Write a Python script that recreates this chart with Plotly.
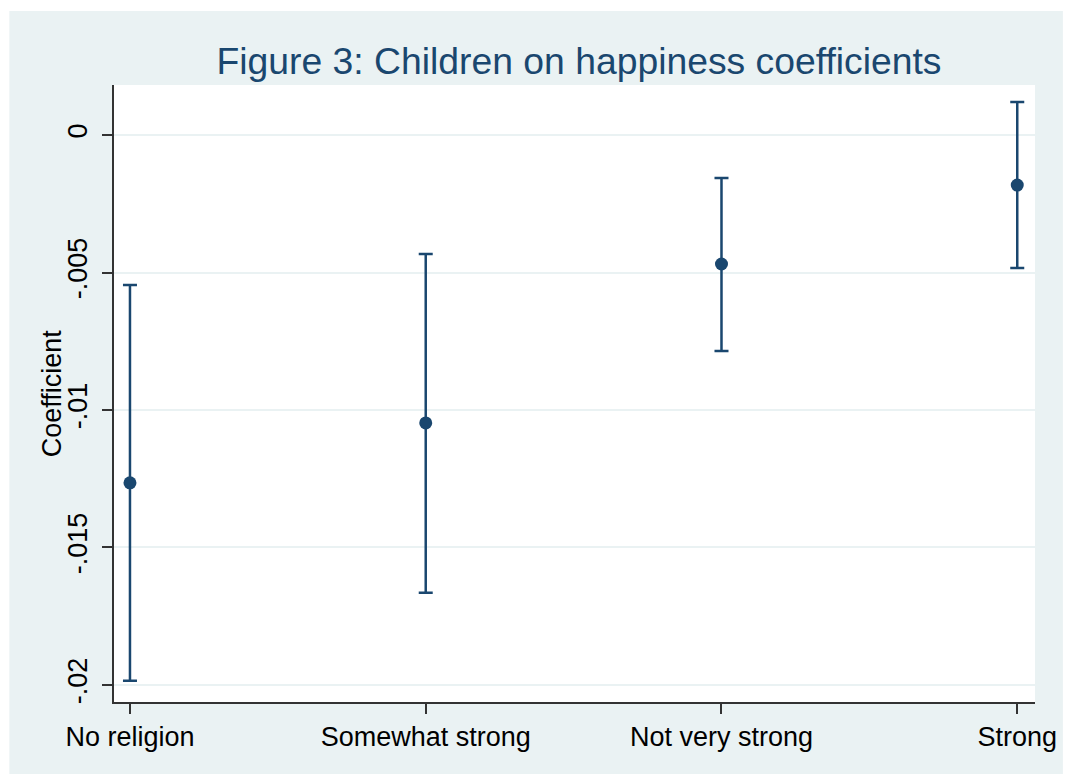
import plotly.graph_objects as go

categories = ["No religion", "Somewhat strong", "Not very strong", "Strong"]
coef = [-0.01265, -0.01047, -0.00469, -0.00182]
ci_upper = [-0.00545, -0.00433, -0.00156, 0.00120]
ci_lower = [-0.01985, -0.01665, -0.00785, -0.00484]
y_ticks = [0, -0.005, -0.01, -0.015, -0.02]
y_tick_labels = ["0", "-.005", "-.01", "-.015", "-.02"]

navy = "#1a476f"
bg = "#eaf2f3"
xpos = list(range(len(categories)))
err_plus = [u - c for u, c in zip(ci_upper, coef)]
err_minus = [c - l for c, l in zip(coef, ci_lower)]

W, H = 1069, 774
L, R, T, B = 114, 31, 85, 72
pw, ph = W - L - R, H - T - B

def px_x(p):  # screen px -> paper x
    return (p - L) / pw

def px_y(p):  # screen px -> paper y
    return (H - B - p) / ph

fig = go.Figure()
fig.add_trace(go.Scatter(
    x=xpos, y=coef, mode="markers",
    marker=dict(color=navy, size=13, symbol="circle"),
    error_y=dict(type="data", symmetric=False, array=err_plus, arrayminus=err_minus,
                 color=navy, thickness=2.5, width=7),
    showlegend=False,
))

fig.add_shape(type="rect", xref="paper", yref="paper",
              x0=px_x(9), x1=px_x(1066), y0=px_y(790), y1=px_y(11),
              fillcolor=bg, line=dict(width=0), layer="below")
fig.add_shape(type="rect", xref="paper", yref="paper",
              x0=0, x1=1, y0=0, y1=1,
              fillcolor="white", line=dict(width=0), layer="below")

fig.add_annotation(text="Coefficient", xref="paper", yref="paper",
                   x=px_x(52), y=px_y(393), xanchor="center", yanchor="middle",
                   textangle=-90, showarrow=False, font=dict(size=27, color="black"))

fig.update_layout(
    width=W, height=H,
    margin=dict(l=L, r=R, t=T, b=B, pad=0),
    paper_bgcolor="white", plot_bgcolor="white",
    font=dict(family="Liberation Sans, Arial, sans-serif", size=27, color="black"),
    title=dict(text="Figure 3: Children on happiness coefficients",
               font=dict(size=37.3, color=navy), x=579 / W,
               xanchor="center", y=1 - 61 / H, yanchor="middle"),
    xaxis=dict(
        range=[-0.054, 3.06], tickmode="array", tickvals=xpos, ticktext=categories,
        showgrid=False, zeroline=False, showline=True, linecolor="#333333", linewidth=1.5,
        ticks="outside", ticklen=10, tickcolor="#333333", tickwidth=1.5,
        tickfont=dict(size=27),
    ),
    yaxis=dict(
        range=[-0.02062, 0.00182], tickmode="array", tickvals=y_ticks, ticktext=y_tick_labels,
        tickangle=-90, showgrid=True, gridcolor=bg, gridwidth=2, zeroline=False,
        showline=True, linecolor="#333333", linewidth=1.5,
        ticks="outside", ticklen=10, tickcolor="#333333", tickwidth=1.5,
        tickfont=dict(size=27), ticklabelstandoff=4,
    ),
)

fig.write_html(
    "out.html",
    config={"displayModeBar": False},
    post_script="document.body.style.margin='0';document.body.style.overflow='hidden';",
)
